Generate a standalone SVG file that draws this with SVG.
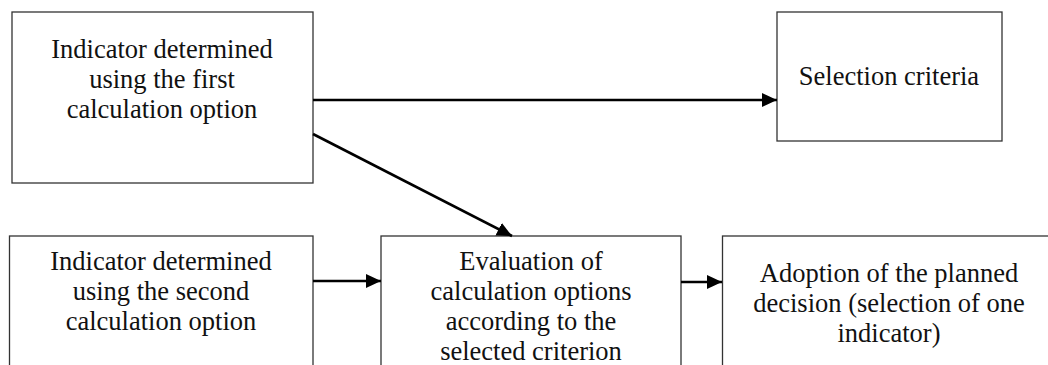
<svg xmlns="http://www.w3.org/2000/svg" width="1048" height="365" viewBox="0 0 1048 365">
<style>
.box{fill:#fff;stroke:#333;stroke-width:1.3}
.c{stroke:#000;stroke-width:2.6;fill:none;marker-end:url(#ah)}
</style>
<defs>
<marker id="ah" markerUnits="userSpaceOnUse" markerWidth="16" markerHeight="15" refX="15" refY="7" orient="auto">
<path d="M0,0 L15,7 L0,14 z" fill="#000"/>
</marker>
</defs>
<rect width="1048" height="365" fill="#fff"/>
<g id="n1">
<rect class="box" x="12" y="12" width="301" height="171"/>
<text style="font-family:'Liberation Serif',serif !important;font-size:26.5px" fill="#111" text-anchor="middle" x="162" y="58">Indicator determined</text>
<text style="font-family:'Liberation Serif',serif !important;font-size:26.5px" fill="#111" text-anchor="middle" x="162" y="88">using the first</text>
<text style="font-family:'Liberation Serif',serif !important;font-size:26.5px" fill="#111" text-anchor="middle" x="162" y="118">calculation option</text>
</g>
<g id="n2">
<rect class="box" x="777" y="12" width="225" height="129"/>
<text style="font-family:'Liberation Serif',serif !important;font-size:26.5px" fill="#111" text-anchor="middle" x="889" y="85">Selection criteria</text>
</g>
<g id="n3">
<rect class="box" x="9.5" y="236" width="303.5" height="140"/>
<text style="font-family:'Liberation Serif',serif !important;font-size:26.5px" fill="#111" text-anchor="middle" x="161" y="270">Indicator determined</text>
<text style="font-family:'Liberation Serif',serif !important;font-size:26.5px" fill="#111" text-anchor="middle" x="161" y="300">using the second</text>
<text style="font-family:'Liberation Serif',serif !important;font-size:26.5px" fill="#111" text-anchor="middle" x="161" y="330">calculation option</text>
</g>
<g id="n4">
<rect class="box" x="381" y="236" width="300" height="140"/>
<text style="font-family:'Liberation Serif',serif !important;font-size:26.5px" fill="#111" text-anchor="middle" x="531" y="270">Evaluation of</text>
<text style="font-family:'Liberation Serif',serif !important;font-size:26.5px" fill="#111" text-anchor="middle" x="531" y="300">calculation options</text>
<text style="font-family:'Liberation Serif',serif !important;font-size:26.5px" fill="#111" text-anchor="middle" x="531" y="330">according to the</text>
<text style="font-family:'Liberation Serif',serif !important;font-size:26.5px" fill="#111" text-anchor="middle" x="531" y="360">selected criterion</text>
</g>
<g id="n5">
<rect class="box" x="722.5" y="236" width="340" height="140"/>
<text style="font-family:'Liberation Serif',serif !important;font-size:26.5px" fill="#111" text-anchor="middle" x="889" y="282">Adoption of the planned</text>
<text style="font-family:'Liberation Serif',serif !important;font-size:26.5px" fill="#111" text-anchor="middle" x="889" y="312">decision (selection of one</text>
<text style="font-family:'Liberation Serif',serif !important;font-size:26.5px" fill="#111" text-anchor="middle" x="889" y="342">indicator)</text>
</g>
<g id="connectors">
<line class="c" x1="313" y1="100" x2="777" y2="100"/>
<line class="c" x1="313" y1="134" x2="512" y2="236"/>
<line class="c" x1="313" y1="281" x2="381" y2="281"/>
<line class="c" x1="681" y1="282" x2="722" y2="282"/>
</g>
</svg>
